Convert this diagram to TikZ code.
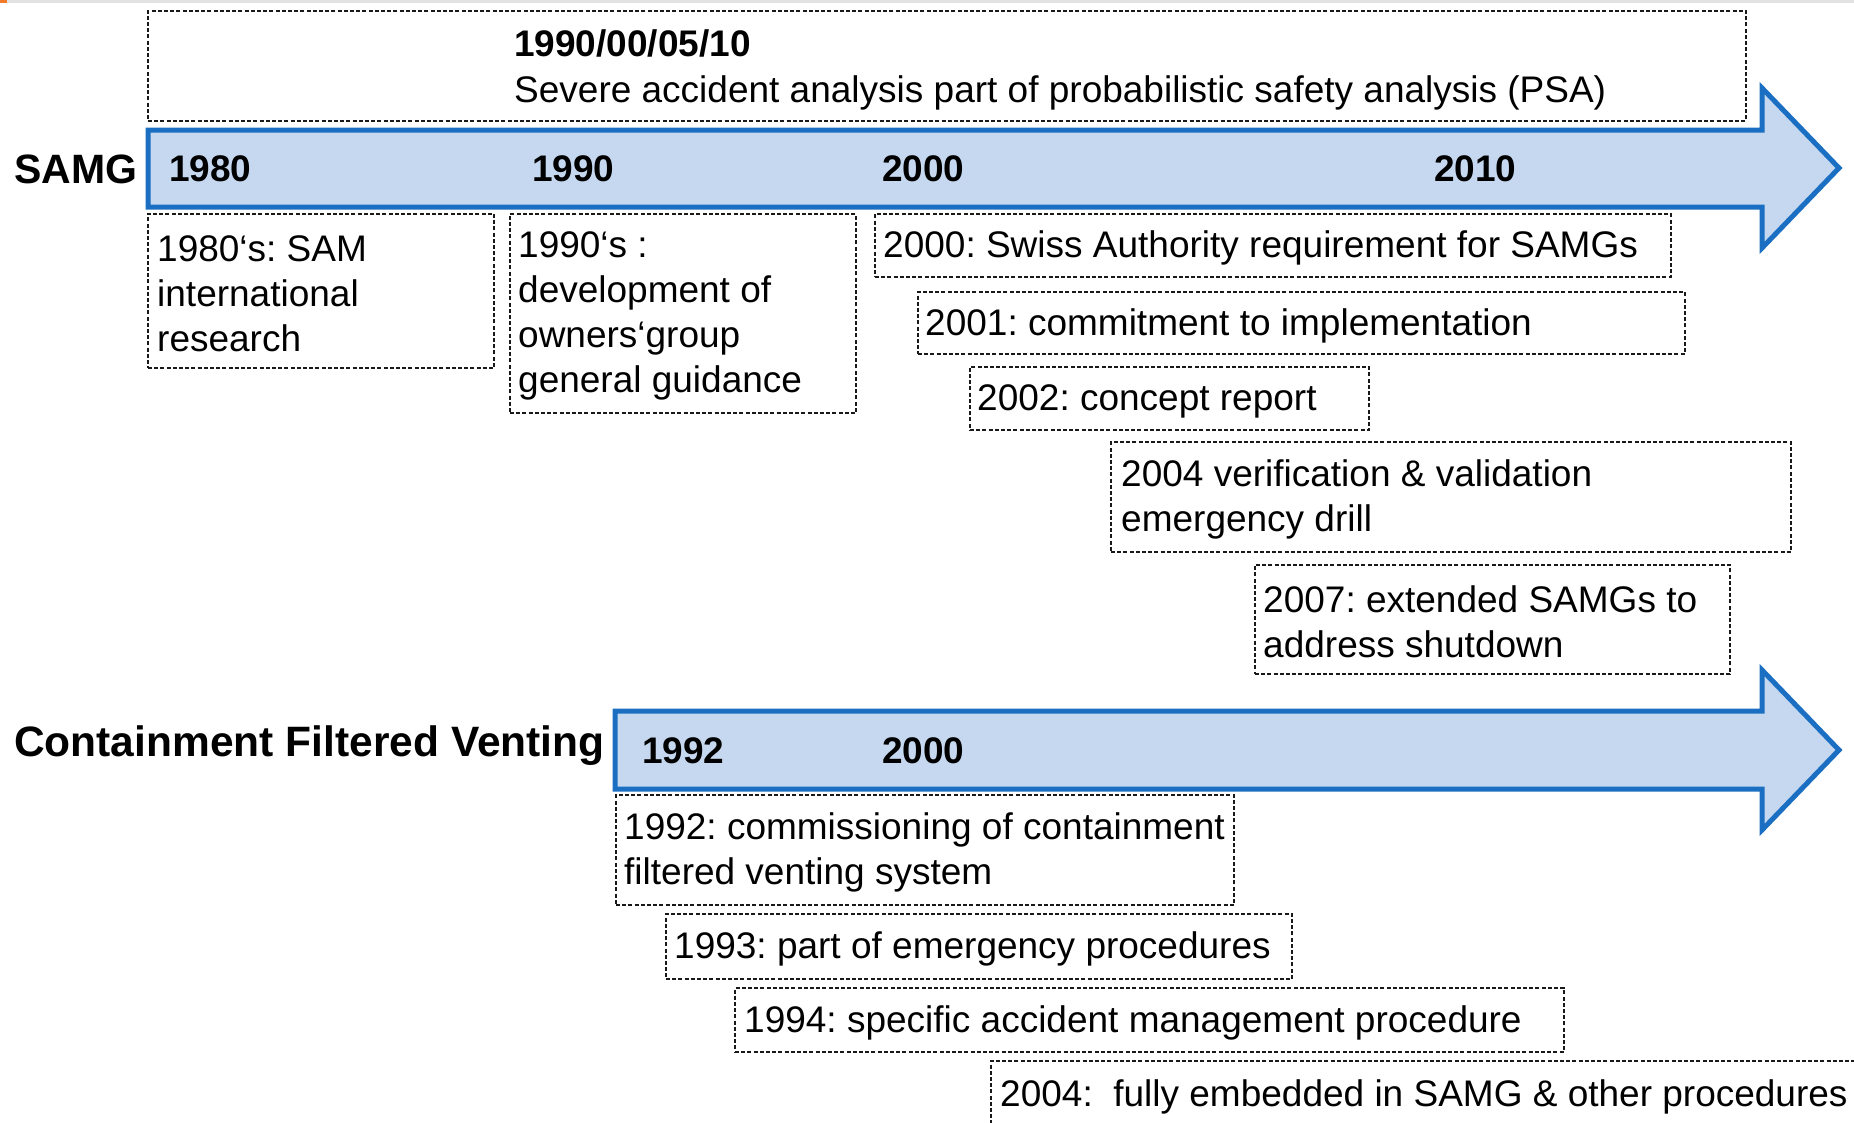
\documentclass[tikz,border=0pt]{standalone}
\usepackage{fontspec}
\setmainfont{Liberation Sans}
\definecolor{arrowblue}{HTML}{1B6FC2}
\definecolor{arrowfill}{HTML}{C6D8EF}
\definecolor{edgegray}{HTML}{E2E2E2}
\definecolor{edgeorange}{HTML}{F07A2A}
\begin{document}
\frenchspacing
\begin{tikzpicture}[x=1pt,y=-1pt,
  evbox/.style={draw=black!90, line width=2.1pt, dash pattern=on 4pt off 2.2pt,
    inner sep=0pt, outer sep=0pt, anchor=north west},
  evtext/.style={anchor=west, align=left, inner sep=0pt, yshift=-2.5pt,
    font=\fontsize{37}{45}\selectfont},
  yearlbl/.style={anchor=base west, inner sep=0pt,
    font=\bfseries\fontsize{37}{44}\selectfont},
  ttl/.style={anchor=base west, inner sep=0pt,
    font=\bfseries\fontsize{41}{48}\selectfont},
  tarrow/.style={draw=arrowblue, fill=arrowfill, line width=5pt, line join=miter}]
\useasboundingbox (0,0) rectangle (1854,1122);
% top edge marks
\fill[edgegray] (0,0) rectangle (1854,3);
\fill[edgeorange] (0,0) rectangle (7,3);

% ---------- SAMG timeline ----------
\node[evbox, minimum width=1598pt, minimum height=110pt] (psabox) at (148,11) {};
\node[anchor=base west, align=left, inner sep=0pt, font=\fontsize{37}{46}\selectfont]
  (psatext) at (514,102) {\textbf{1990/00/05/10}\\Severe accident analysis part of probabilistic safety analysis (PSA)};

\draw[tarrow] (148,130) -- (1762,130) -- (1762,88) -- (1839,168) -- (1762,248)
  -- (1762,207) -- (148,207) -- cycle;
\node[ttl] (samg) at (14,183) {SAMG};
\node[yearlbl] (y1980) at (169,181) {1980};
\node[yearlbl] (y1990) at (532,181) {1990};
\node[yearlbl] (y2000) at (882,181) {2000};
\node[yearlbl] (y2010) at (1434,181) {2010};

\node[evbox, minimum width=346pt, minimum height=154pt] (b1980) at (148,214) {};
\node[evtext] (t1980) at ([xshift=9pt]b1980.west) {1980‘s: SAM\\international\\research};

\node[evbox, minimum width=346pt, minimum height=199pt] (b1990) at (510,214) {};
\node[evtext] (t1990) at ([xshift=8pt]b1990.west) {1990‘s :\\development of\\owners‘group\\general guidance};

\node[evbox, minimum width=796pt, minimum height=63pt] (b2000) at (875,214) {};
\node[evtext] (t2000) at ([xshift=8pt]b2000.west) {2000: Swiss Authority requirement for SAMGs};

\node[evbox, minimum width=767pt, minimum height=62pt] (b2001) at (918,292) {};
\node[evtext] (t2001) at ([xshift=7pt]b2001.west) {2001: commitment to implementation};

\node[evbox, minimum width=399pt, minimum height=63pt] (b2002) at (970,367) {};
\node[evtext] (t2002) at ([xshift=7pt]b2002.west) {2002: concept report};

\node[evbox, minimum width=680pt, minimum height=110pt] (b2004) at (1111,442) {};
\node[evtext] (t2004) at ([xshift=10pt]b2004.west) {2004 verification \& validation\\emergency drill};

\node[evbox, minimum width=475pt, minimum height=109pt] (b2007) at (1255,565) {};
\node[evtext] (t2007) at ([xshift=8pt]b2007.west) {2007: extended SAMGs to\\address shutdown};

% ---------- Containment Filtered Venting timeline ----------
\draw[tarrow] (615,711) -- (1762,711) -- (1762,670) -- (1839,750) -- (1762,830)
  -- (1762,789) -- (615,789) -- cycle;
\node[ttl, font=\bfseries\fontsize{42.5}{48}\selectfont] (cfv) at (14,756) {Containment Filtered Venting};
\node[yearlbl] (y1992) at (642,763) {1992};
\node[yearlbl] (y2000b) at (882,763) {2000};

\node[evbox, minimum width=618pt, minimum height=110pt] (c1992) at (616,795) {};
\node[evtext] (u1992) at ([xshift=8pt]c1992.west) {1992: commissioning of containment\\filtered venting system};

\node[evbox, minimum width=626pt, minimum height=65pt] (c1993) at (666,914) {};
\node[evtext] (u1993) at ([xshift=8pt]c1993.west) {1993: part of emergency procedures};

\node[evbox, minimum width=829pt, minimum height=64pt] (c1994) at (735,988) {};
\node[evtext] (u1994) at ([xshift=9pt]c1994.west) {1994: specific accident management procedure};

\node[evbox, minimum width=889pt, minimum height=66pt] (c2004) at (991,1061) {};
\node[evtext] (u2004) at ([xshift=9pt]c2004.west) {2004:\ \ fully embedded in SAMG \& other procedures};
\end{tikzpicture}
\end{document}
